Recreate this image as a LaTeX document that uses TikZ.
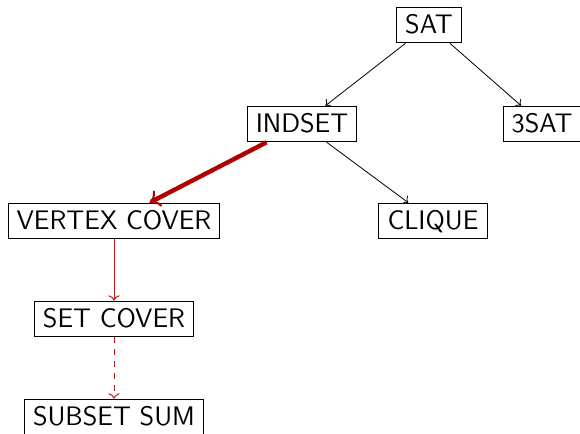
\documentclass[tikz,border=0pt]{standalone}
\usetikzlibrary{arrows.meta}
\definecolor{dred}{HTML}{B00000}
\definecolor{lred}{HTML}{C02020}
\begin{document}
\begin{tikzpicture}[x=1pt,y=1pt,
  prob/.style={draw,line width=0.5pt,font=\fontsize{13.4}{15}\selectfont\sffamily,
    text height=9.3pt,text depth=0.5pt,inner xsep=4.3pt,inner ysep=4pt},
  red1/.style={->,draw=lred,line width=0.5pt},
  red2/.style={-{To[length=5pt,width=9pt,line width=1pt]},draw=dred,line width=2.2pt}]
\useasboundingbox (0,0) rectangle (290,217);
\node[prob] (sat) at (214.5,204.5) {SAT};
\node[prob] (indset) at (151,155) {INDSET};
\node[prob] (tsat) at (271,155) {3SAT};
\node[prob] (vc) at (57,106.5) {VERTEX COVER};
\node[prob] (clique) at (216.5,106.5) {CLIQUE};
\node[prob] (sc) at (57,57.5) {SET COVER};
\node[prob] (ss) at (57,8.5) {SUBSET SUM};
\draw[->,line width=0.4pt] (sat) -- (indset);
\draw[->,line width=0.4pt] (sat) -- (tsat);
\draw[->,line width=0.4pt] (indset) -- (clique);
\draw[red2] (indset) -- (vc);
\draw[red1] (vc) -- (sc);
\draw[red1,dashed] (sc) -- (ss);
\end{tikzpicture}
\end{document}
